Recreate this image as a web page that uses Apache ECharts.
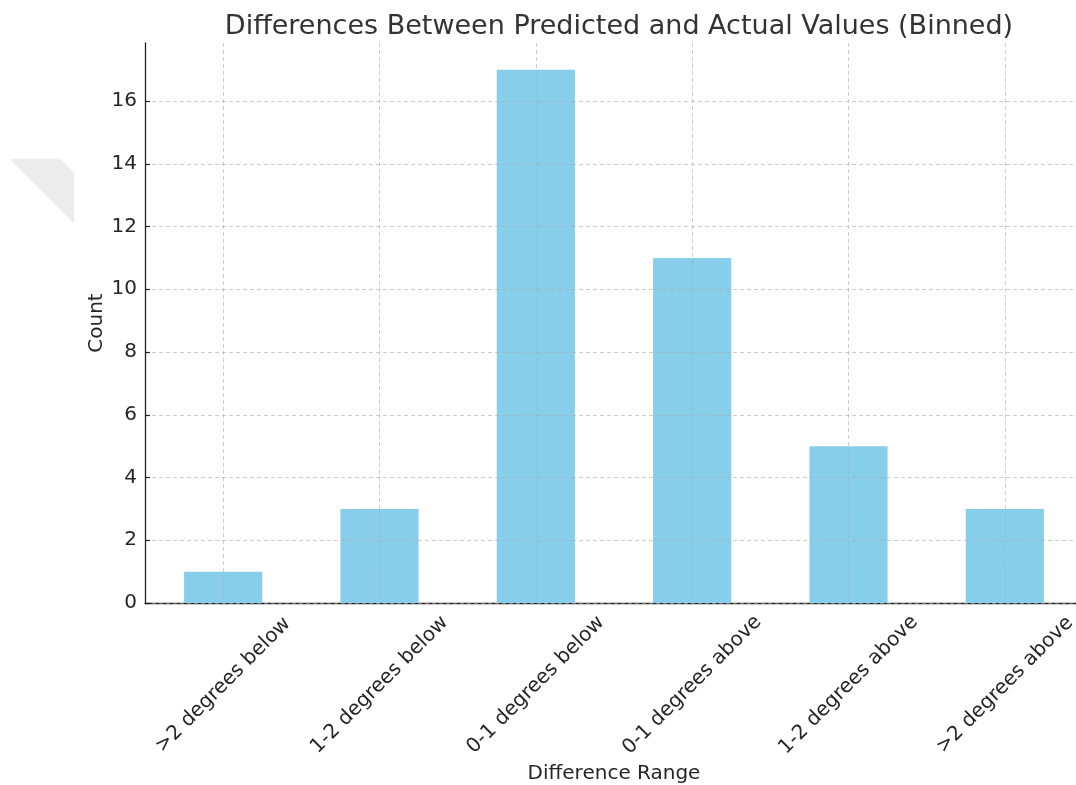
<!DOCTYPE html>
<html>
<head>
<meta charset="utf-8">
<script src="https://cdn.jsdelivr.net/npm/echarts@6/dist/echarts.min.js"></script>
<style>html,body{margin:0;padding:0;background:#fff;overflow:hidden}#c{width:1076px;height:785px}</style>
</head>
<body>
<div id="c"></div>
<script>
const categories = [">2 degrees below", "1-2 degrees below", "0-1 degrees below", "0-1 degrees above", "1-2 degrees above", ">2 degrees above"];
const counts = [1, 3, 17, 11, 5, 3];
const yTicks = [0, 2, 4, 6, 8, 10, 12, 14, 16];

const FONT = "DejaVu Sans";
const TXT = "#333333";
const TICKTXT = "#262626";
const GRIDC = "rgba(170,170,170,0.6)";
const chart = echarts.init(document.getElementById('c'), null, {renderer: 'canvas', width: 1076, height: 785});
chart.setOption({
  animation: false,
  backgroundColor: '#ffffff',
  textStyle: {fontFamily: FONT},
  title: {
    text: 'Differences Between Predicted and Actual Values (Binned)',
    left: 614, top: 8, textAlign: 'center',
    textStyle: {fontFamily: FONT, fontSize: 27, fontWeight: 'normal', color: TXT}
  },
  graphic: [{
    type: 'polygon', silent: true, z: -1,
    shape: {points: [[10, 159], [60, 159], [74, 173], [74, 223]]},
    style: {fill: '#ececec', shadowBlur: 3, shadowColor: 'rgba(0,0,0,0.05)'}
  }],
  grid: [
    {left: 145, width: 938, top: 43, height: 560, containLabel: false, outerBoundsMode: 'none'},
    {left: 223, width: 782, top: 43, height: 560, containLabel: false, outerBoundsMode: 'none'}
  ],
  xAxis: [{
    type: 'category', gridIndex: 0, data: categories,
    name: 'Difference Range', nameLocation: 'middle', nameGap: 161, nameMoveOverlap: false,
    nameTextStyle: {fontFamily: FONT, fontSize: 20, color: TICKTXT, verticalAlign: 'top'},
    axisLine: {show: true, lineStyle: {color: '#222', width: 1.3}},
    axisTick: {show: true, inside: true, length: 5, alignWithLabel: true, lineStyle: {color: '#222', width: 1.2}},
    axisLabel: {interval: 0, rotate: 45, align: 'center', verticalAlign: 'middle', margin: 82,
      fontFamily: FONT, fontSize: 20, color: TICKTXT},
    splitLine: {show: false}
  }, {
    type: 'value', gridIndex: 1, min: 0, max: 5, interval: 1, z: 3,
    axisLine: {show: false}, axisTick: {show: false}, axisLabel: {show: false},
    splitLine: {show: true, lineStyle: {color: GRIDC, width: 1, type: [4, 3]}}
  }],
  yAxis: [{
    type: 'value', gridIndex: 0, min: 0, max: 17.85, interval: 2, z: 3,
    name: 'Count', nameLocation: 'middle', nameGap: 38, nameMoveOverlap: false,
    nameTextStyle: {fontFamily: FONT, fontSize: 20, color: TICKTXT},
    axisLine: {show: true, lineStyle: {color: '#222', width: 1.3}},
    axisTick: {show: true, inside: true, length: 5, lineStyle: {color: '#222', width: 1.2}},
    axisLabel: {fontFamily: FONT, fontSize: 20, color: TICKTXT, margin: 8,
      showMaxLabel: false,
      formatter: v => yTicks.indexOf(v) >= 0 ? String(v) : ''},
    splitLine: {show: true, showMaxLine: false, lineStyle: {color: GRIDC, width: 1, type: [4, 3]}}
  }, {
    type: 'value', gridIndex: 1, show: false, min: 0, max: 1, splitLine: {show: false}
  }],
  series: [{
    type: 'bar', xAxisIndex: 0, yAxisIndex: 0, data: counts, barWidth: '50%',
    itemStyle: {color: '#87CEEB'}, z: 1
  }]
});
</script>
</body>
</html>
